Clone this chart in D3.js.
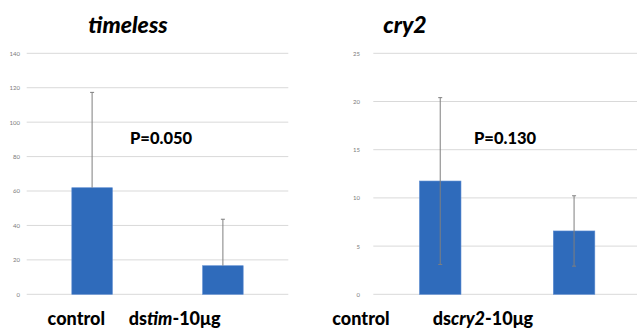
<!DOCTYPE html>
<html>
<head>
<meta charset="utf-8">
<script src="https://cdn.jsdelivr.net/npm/d3@7"></script>
<style>
  html, body { margin: 0; padding: 0; background: #fff; }
  svg { display: block; }
  text { font-family: Lato, "Open Sans", sans-serif; }
</style>
</head>
<body>
<svg id="chart" width="637" height="332"></svg>
<script>
// ---- data ----
const timelessCategories = ["control", "dstim-10μg"];
const timelessMeans = [61.9, 16.6];
const timelessErrUp = [55.4, 27.0];
const timelessTicks = [0, 20, 40, 60, 80, 100, 120, 140];
const timelessP = "P=0.050";

const cry2Categories = ["control", "dscry2-10μg"];
const cry2Means = [11.75, 6.57];
const cry2Err = [8.65, 3.65];
const cry2Ticks = [0, 5, 10, 15, 20, 25];
const cry2P = "P=0.130";

// ---- styling / layout ----
const barColor = "#2f6bbb";
const gridColor = "#d9d9d9";
const errColor = "#7f7f7f";
const tickColor = "#7a7a7a";

const svg = d3.select("#chart");

function panel(cfg) {
  const g = svg.append("g");
  const y = d3.scaleLinear().domain([0, cfg.max]).range([294.3, 53.3]);
  const x = d3.scaleBand().domain(cfg.categories)
    .range(cfg.xRange).paddingInner(0.69).paddingOuter(0.345);

  // gridlines
  g.selectAll("line.grid").data(cfg.ticks).join("line")
    .attr("class", "grid")
    .attr("x1", cfg.gridX[0]).attr("x2", cfg.gridX[1])
    .attr("y1", d => y(d)).attr("y2", d => y(d))
    .attr("stroke", gridColor).attr("stroke-width", 1);

  // y tick labels
  const axis = d3.axisLeft(y).tickValues(cfg.ticks).tickSize(0).tickPadding(0);
  const ag = g.append("g").attr("transform", `translate(${cfg.tickX},0)`).call(axis);
  ag.select(".domain").remove();
  ag.selectAll("text").attr("fill", tickColor).attr("font-size", 6)
    .style("font-family", "Lato, sans-serif");

  // bars
  const rows = cfg.categories.map((c, i) => ({
    c, v: cfg.means[i], up: cfg.errUp[i], down: cfg.errDown[i]
  }));
  g.selectAll("rect.bar").data(rows).join("rect")
    .attr("class", "bar")
    .attr("x", d => x(d.c)).attr("width", x.bandwidth())
    .attr("y", d => y(d.v)).attr("height", d => y(0) - y(d.v))
    .attr("fill", barColor)
    .attr("stroke", "#5a8ad0").attr("stroke-width", 0.6);

  // error bars
  const eg = g.selectAll("g.err").data(rows).join("g").attr("class", "err");
  const cx = d => x(d.c) + x.bandwidth() / 2;
  eg.append("line")
    .attr("x1", cx).attr("x2", cx)
    .attr("y1", d => y(d.v - d.down)).attr("y2", d => y(d.v + d.up))
    .attr("stroke", errColor).attr("stroke-width", 1);
  eg.append("line")
    .attr("x1", d => cx(d) - 2).attr("x2", d => cx(d) + 2)
    .attr("y1", d => y(d.v + d.up)).attr("y2", d => y(d.v + d.up))
    .attr("stroke", errColor).attr("stroke-width", 1);
  eg.filter(d => d.down > 0).append("line")
    .attr("x1", d => cx(d) - 2).attr("x2", d => cx(d) + 2)
    .attr("y1", d => y(d.v - d.down)).attr("y2", d => y(d.v - d.down))
    .attr("stroke", errColor).attr("stroke-width", 1);

  // title
  g.append("text").attr("x", cfg.titleX).attr("y", 33)
    .attr("text-anchor", "middle")
    .attr("font-size", 23).attr("font-weight", 900).attr("font-style", "italic")
    .attr("fill", "#000").text(cfg.title);

  // p-value
  g.append("text").attr("x", cfg.pX).attr("y", 143.5)
    .attr("font-size", 16.5).attr("font-weight", 900)
    .attr("fill", "#000").text(cfg.p);

  // category labels (rich text with italic gene name)
  cfg.labelParts.forEach((parts, i) => {
    const t = g.append("text").attr("x", cfg.labelX[i]).attr("y", 324.5)
      .attr("text-anchor", "middle")
      .attr("font-size", 18).attr("font-weight", 900).attr("fill", "#000");
    parts.forEach(p => t.append("tspan")
      .attr("font-style", p.italic ? "italic" : "normal").text(p.s));
  });
}

panel({
  title: "timeless", titleX: 128,
  categories: timelessCategories, means: timelessMeans,
  errUp: timelessErrUp, errDown: timelessMeans.map(() => 0),
  ticks: timelessTicks, max: 140, p: timelessP, pX: 130,
  xRange: [26.7, 288.3], gridX: [26.7, 288.3], tickX: 20,
  labelX: [76.3, 174.7],
  labelParts: [[{s: "control"}], [{s: "ds"}, {s: "tim", italic: true}, {s: "-10μg"}]]
});

panel({
  title: "cry2", titleX: 405,
  categories: cry2Categories, means: cry2Means,
  errUp: cry2Err, errDown: cry2Err,
  ticks: cry2Ticks, max: 25, p: cry2P, pX: 474,
  xRange: [373.3, 641], gridX: [373.3, 637], tickX: 360,
  labelX: [361, 483],
  labelParts: [[{s: "control"}], [{s: "ds"}, {s: "cry2", italic: true}, {s: "-10μg"}]]
});
</script>
</body>
</html>
